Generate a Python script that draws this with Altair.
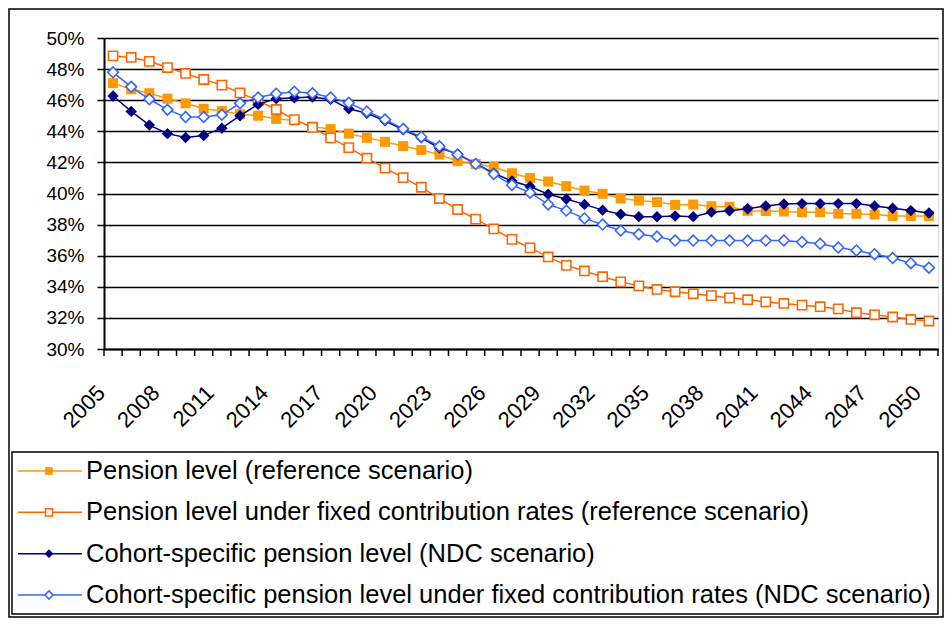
import altair as alt
import pandas as pd

# ---------------- data ----------------
years = list(range(2005, 2051))
label_years = list(range(2005, 2051, 3))

series_names = [
    "Pension level (reference scenario)",
    "Pension level under fixed contribution rates (reference scenario)",
    "Cohort-specific pension level (NDC scenario)",
    "Cohort-specific pension level under fixed contribution rates (NDC scenario)",
]

pension_ref = [47.1, 46.7, 46.45, 46.1, 45.8, 45.45, 45.3, 45.1, 45.0, 44.8,
               44.7, 44.3, 44.15, 43.85, 43.58, 43.32, 43.05, 42.8, 42.5, 42.08,
               41.9, 41.7, 41.3, 41.0, 40.77, 40.47, 40.19, 39.98, 39.68, 39.55,
               39.45, 39.27, 39.29, 39.18, 39.15, 38.89, 38.87, 38.84, 38.8, 38.8,
               38.7, 38.7, 38.65, 38.55, 38.55, 38.55]
pension_fixed_ref = [48.85, 48.75, 48.5, 48.1, 47.72, 47.33, 46.97, 46.47, 45.97, 45.4,
                     44.75, 44.25, 43.58, 42.95, 42.27, 41.63, 41.02, 40.4, 39.68, 38.97,
                     38.35, 37.72, 37.05, 36.5, 35.92, 35.38, 35.02, 34.65, 34.32, 34.06,
                     33.83, 33.68, 33.55, 33.43, 33.29, 33.17, 33.03, 32.93, 32.82, 32.72,
                     32.58, 32.33, 32.2, 32.06, 31.9, 31.8]
ndc = [46.27, 45.28, 44.4, 43.85, 43.6, 43.73, 44.2, 45.0, 45.73, 46.1,
       46.15, 46.2, 46.05, 45.45, 45.16, 44.67, 44.1, 43.58, 42.93, 42.55,
       41.92, 41.3, 40.8, 40.45, 39.95, 39.65, 39.3, 38.93, 38.67, 38.51,
       38.5, 38.55, 38.51, 38.8, 38.89, 39.02, 39.2, 39.32, 39.35, 39.35,
       39.35, 39.35, 39.2, 39.05, 38.9, 38.75]
ndc_fixed = [47.79, 46.86, 46.06, 45.39, 44.92, 44.92, 45.06, 45.8, 46.17, 46.42,
             46.55, 46.45, 46.17, 45.83, 45.27, 44.76, 44.16, 43.64, 43.04, 42.5,
             41.9, 41.25, 40.55, 40.05, 39.3, 38.9, 38.4, 38.0, 37.62, 37.38,
             37.23, 36.97, 36.97, 36.97, 36.97, 36.97, 36.97, 36.98, 36.88, 36.77,
             36.53, 36.34, 36.1, 35.85, 35.52, 35.23]

all_series = [pension_ref, pension_fixed_ref, ndc, ndc_fixed]
y_ticks = list(range(30, 51, 2))

# ---------------- styles ----------------
colors = ["#FF9900", "#FF6600", "#000080", "#3366FF"]
shapes = ["square", "square", "diamond", "diamond"]
filled = [True, False, True, False]
sizes = [100, 85, 130, 115]
FONT = "Liberation Sans"

W, H = 834, 311

x_scale = alt.Scale(domain=[2004.5, 2050.5], nice=False, zero=False)
y_scale = alt.Scale(domain=[30, 50], nice=False, zero=False)

x_axis = alt.Axis(values=label_years, format="d", labelAngle=-45, labelAlign="right",
                  labelBaseline="middle", labelFont=FONT, labelFontSize=22,
                  labelColor="black", labelPadding=40, labelOffset=-12,
                  domainColor="black", domainWidth=2, ticks=False, grid=False,
                  title=None, labelOverlap=False)
y_axis = alt.Axis(values=y_ticks, labelExpr="datum.value + '%'", labelFont=FONT,
                  labelFontSize=19, labelColor="black", labelPadding=13,
                  domainColor="black", domainWidth=2, tickColor="black", tickSize=7,
                  tickWidth=1.5, grid=True, gridColor="black", gridWidth=1.5,
                  title=None)

rows = []
for name, vals in zip(series_names, all_series):
    for yr, v in zip(years, vals):
        rows.append({"series": name, "year": yr, "value": v})
df = pd.DataFrame(rows)

main_layers = []
# category tick marks (between categories)
bounds = pd.DataFrame({"b": [2004.5 + i for i in range(len(years) + 1)]})
main_layers.append(
    alt.Chart(bounds).mark_rule(color="black", strokeWidth=1.5).encode(
        x=alt.X("b:Q", scale=x_scale, axis=x_axis, title=None),
        y=alt.value(H), y2=alt.value(H + 7))
)
for i, name in enumerate(series_names):
    sub = df[df.series == name]
    base = alt.Chart(sub).encode(
        x=alt.X("year:Q", scale=x_scale, axis=x_axis, title=None),
        y=alt.Y("value:Q", scale=y_scale, axis=y_axis, title=None),
    )
    main_layers.append(base.mark_line(color=colors[i], strokeWidth=1.5))
    if filled[i]:
        pt = base.mark_point(shape=shapes[i], filled=True, color=colors[i],
                             size=sizes[i], opacity=1)
    else:
        pt = base.mark_point(shape=shapes[i], filled=False, fill="white",
                             fillOpacity=1, color=colors[i], strokeWidth=1.6,
                             size=sizes[i], opacity=1)
    main_layers.append(pt)
main = alt.layer(*main_layers)

# ---------------- legend (manual) ----------------
leg_df = pd.DataFrame({"idx": [0, 1, 2, 3], "name": series_names})
leg_y = alt.Y("idx:Q", scale=alt.Scale(domain=[0, 3], range=[433, 557]), axis=None)

frame = alt.Chart(leg_df.head(1)).mark_rect(fill="white", fillOpacity=0, stroke="black",
                                            strokeWidth=1.5).encode(
    x=alt.value(-95), x2=alt.value(W + 5), y=alt.value(-29), y2=alt.value(H + 268))
legbox = alt.Chart(leg_df.head(1)).mark_rect(fill="white", stroke="black",
                                             strokeWidth=1.5).encode(
    x=alt.value(-92), x2=alt.value(W), y=alt.value(414), y2=alt.value(576))
leg_layers = [frame, legbox]
for i in range(4):
    sub = leg_df[leg_df.idx == i]
    b = alt.Chart(sub).encode(y=leg_y)
    leg_layers.append(b.mark_rule(color=colors[i], strokeWidth=1.5).encode(
        x=alt.value(-86), x2=alt.value(-22)))
    if filled[i]:
        leg_layers.append(b.mark_point(shape=shapes[i], filled=True, color=colors[i],
                                       size=sizes[i] * 0.6, opacity=1).encode(x=alt.value(-55)))
    else:
        leg_layers.append(b.mark_point(shape=shapes[i], filled=False, fill="white",
                                       fillOpacity=1, color=colors[i], strokeWidth=1.5,
                                       size=sizes[i] * 0.6, opacity=1).encode(x=alt.value(-55)))
    leg_layers.append(b.mark_text(align="left", baseline="middle", font=FONT,
                                  fontSize=25.5, color="black").encode(
        x=alt.value(-18), text="name:N"))
legend = alt.layer(*leg_layers)

chart = alt.layer(legend, main).resolve_scale(y="independent").properties(
    width=W, height=H,
    autosize=alt.AutoSizeParams(type="none"),
    padding={"left": 96, "top": 30, "right": 6, "bottom": 269},
).configure_view(stroke="black", strokeWidth=1.5).configure(background="white")

chart.save("out.html", embed_options={"renderer": "svg", "actions": False})
